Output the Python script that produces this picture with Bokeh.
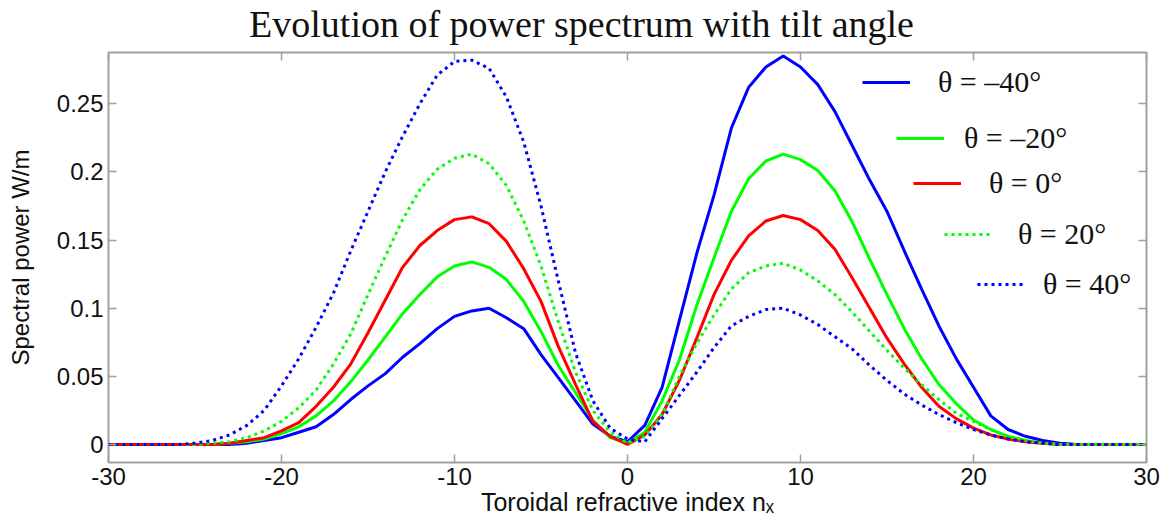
from bokeh.plotting import figure
from bokeh.models import (Range1d, LinearAxis, FixedTicker, CustomJSTickFormatter,
                          CustomLabelingPolicy, Legend, LegendItem, Label)
from bokeh.core.properties import value
from bokeh.embed import file_html
from bokeh.resources import INLINE

# Toroidal refractive index n_x
nx = list(range(-30, 31))

# Spectral power (W/m) for each tilt angle
theta_m40 = [0, 0, 0, 0, 0, 0, 0, 0,
             0.001, 0.003, 0.005, 0.009, 0.013, 0.022, 0.033, 0.043, 0.052, 0.064, 0.074,
             0.085, 0.094, 0.098, 0.100, 0.093, 0.085, 0.066, 0.049, 0.032, 0.015, 0.006,
             0.002,
             0.014, 0.042, 0.091, 0.140, 0.183, 0.232, 0.262, 0.277, 0.285, 0.277, 0.264,
             0.244, 0.219, 0.194, 0.171, 0.142, 0.114, 0.087, 0.063, 0.042, 0.021, 0.011,
             0.006, 0.003, 0.001,
             0, 0, 0, 0, 0]
theta_m20 = [0, 0, 0, 0, 0, 0, 0,
             0.001, 0.002, 0.004, 0.008, 0.013, 0.021, 0.032, 0.046, 0.062, 0.079, 0.096,
             0.110, 0.123, 0.131, 0.134, 0.130, 0.121, 0.105, 0.083, 0.058, 0.038, 0.018,
             0.005,
             0.001,
             0.009, 0.032, 0.062, 0.102, 0.137, 0.171, 0.195, 0.208, 0.213, 0.209, 0.201,
             0.186, 0.163, 0.136, 0.110, 0.085, 0.063, 0.044, 0.030, 0.018, 0.011, 0.006,
             0.003, 0.001,
             0, 0, 0, 0, 0, 0]
theta_0 = [0, 0, 0, 0, 0, 0, 0,
           0.001, 0.003, 0.005, 0.010, 0.016, 0.028, 0.042, 0.059, 0.082, 0.106, 0.130,
           0.146, 0.157, 0.165, 0.167, 0.162, 0.149, 0.129, 0.105, 0.072, 0.044, 0.017,
           0.006,
           0.000,
           0.007, 0.022, 0.047, 0.078, 0.110, 0.135, 0.153, 0.164, 0.168, 0.165, 0.157,
           0.143, 0.122, 0.100, 0.078, 0.059, 0.042, 0.028, 0.019, 0.012, 0.007, 0.004,
           0.002, 0.001,
           0, 0, 0, 0, 0, 0]
theta_20 = [0, 0, 0, 0, 0, 0,
            0.001, 0.002, 0.005, 0.010, 0.017, 0.027, 0.040, 0.059, 0.081, 0.110, 0.138,
            0.165, 0.187, 0.202, 0.210, 0.213, 0.206, 0.190, 0.164, 0.131, 0.090, 0.053,
            0.025, 0.009,
            0.001,
            0.006, 0.022, 0.050, 0.074, 0.095, 0.114, 0.126, 0.131, 0.133, 0.128, 0.120,
            0.110, 0.097, 0.083, 0.069, 0.056, 0.044, 0.033, 0.023, 0.017, 0.011, 0.006,
            0.003, 0.001,
            0, 0, 0, 0, 0, 0]
theta_40 = [0, 0, 0, 0, 0,
            0.001, 0.003, 0.007, 0.014, 0.025, 0.043, 0.063, 0.086, 0.111, 0.142, 0.171,
            0.200, 0.226, 0.250, 0.271, 0.281, 0.282, 0.276, 0.255, 0.222, 0.175, 0.120,
            0.067, 0.032, 0.012,
            0.004,
            0.002, 0.019, 0.036, 0.053, 0.071, 0.087, 0.094, 0.099, 0.100, 0.095, 0.088,
            0.079, 0.070, 0.058, 0.047, 0.037, 0.029, 0.022, 0.016, 0.011, 0.007, 0.004,
            0.002, 0.001,
            0, 0, 0, 0, 0, 0]

series_labels = ["θ = –40°", "θ = –20°", "θ = 0°", "θ = 20°", "θ = 40°"]
series_values = [theta_m40, theta_m20, theta_0, theta_20, theta_40]
series_colors = ["#0000ff", "#00ff00", "#ff0000", "#00ff00", "#0000ff"]
series_dash = ["solid", "solid", "solid", "3 4", "3 4"]

x_ticks = [-30, -20, -10, 0, 10, 20, 30]
y_ticks = [0, 0.05, 0.1, 0.15, 0.2, 0.25]

title_text = "Evolution of power spectrum with tilt angle"
x_label = "Toroidal refractive index nₓ"
y_label = "Spectral power W/m"

GRAY = "#a0a0a0"
INK = "#111111"

p = figure(width=1173, height=526, output_backend="svg", toolbar_location=None,
           x_range=Range1d(-30, 30), y_range=Range1d(-0.0132, 0.2876),
           min_border_left=108, min_border_right=27, min_border_top=52,
           min_border_bottom=64)
p.xgrid.visible = False
p.ygrid.visible = False
p.outline_line_color = GRAY
p.outline_line_width = 2
p.background_fill_color = "white"
p.border_fill_color = "white"

xfmt = CustomJSTickFormatter(code="return tick.toString();")
yfmt = CustomJSTickFormatter(code="""
var s = tick.toFixed(2);
if (s.indexOf('.') >= 0) { s = s.replace(/0+$/, '').replace(/\\.$/, ''); }
return s;
""")


def style_axis(ax, ticks, show_labels):
    ax.ticker = FixedTicker(ticks=ticks)
    ax.axis_line_color = None
    ax.major_tick_in = 8
    ax.major_tick_out = 0
    ax.minor_tick_line_color = None
    ax.major_tick_line_color = GRAY
    ax.major_tick_line_width = 1.5
    if show_labels:
        ax.major_label_text_font = "Liberation Sans"
        ax.major_label_text_font_size = "24px"
        ax.major_label_text_color = INK
        ax.major_label_standoff = 5
    else:
        ax.major_label_text_font_size = "1px"
        ax.major_label_standoff = 0
        ax.major_label_policy = CustomLabelingPolicy(code="return [];")


xb = p.xaxis[0]
style_axis(xb, x_ticks, True)
xb.formatter = xfmt
xb.axis_label = x_label
xb.axis_label_text_font = "Liberation Sans"
xb.axis_label_text_font_size = "25px"
xb.axis_label_text_font_style = "normal"
xb.axis_label_text_color = INK
xb.axis_label_standoff = 0

yl = p.yaxis[0]
style_axis(yl, y_ticks, True)
yl.formatter = yfmt
yl.axis_label = y_label
yl.axis_label_text_font = "Liberation Sans"
yl.axis_label_text_font_size = "24px"
yl.axis_label_text_font_style = "normal"
yl.axis_label_text_color = INK
yl.axis_label_standoff = 20

xt = LinearAxis()
style_axis(xt, x_ticks, False)
p.add_layout(xt, "above")
yr = LinearAxis()
style_axis(yr, y_ticks, False)
p.add_layout(yr, "right")

renderers = []
for vals, col, dash in zip(series_values, series_colors, series_dash):
    r = p.line(x=nx, y=vals, line_color=col, line_width=3, line_dash=dash)
    renderers.append(r)

# staggered legend entries (location = bottom-left of each box, px from frame)
legend_pos = [(754, 363, 28), (788, 307, 20), (805, 262, 28), (836, 211, 26), (869, 161, 18)]
for r, lab, (lx, ly, so) in zip(renderers, series_labels, legend_pos):
    leg = Legend(items=[LegendItem(label=value(lab), renderers=[r])],
                 location=(lx, ly), border_line_color=None, background_fill_alpha=0,
                 padding=0, margin=0, spacing=0, glyph_width=48, glyph_height=20,
                 label_standoff=so, label_text_font="Liberation Serif",
                 label_text_font_size="30px", label_text_color=INK)
    p.add_layout(leg)

title = Label(x=473, y=25, x_units="screen", y_units="screen", text=title_text,
              text_font="Liberation Serif", text_font_size="38px",
              text_align="center", text_baseline="alphabetic", text_color=INK)
p.add_layout(title, "above")

open("out.html", "w").write(file_html(p, INLINE))
